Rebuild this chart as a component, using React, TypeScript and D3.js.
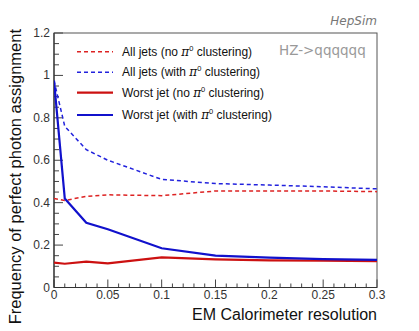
import React from "react";
import * as d3 from "d3";

const resolution = [0, 0.01, 0.03, 0.05, 0.1, 0.15, 0.2, 0.25, 0.3];
const allJetsNoPi0 = [0.42, 0.41, 0.43, 0.437, 0.433, 0.455, 0.455, 0.455, 0.452];
const allJetsWithPi0 = [0.975, 0.76, 0.65, 0.6, 0.51, 0.49, 0.483, 0.475, 0.465];
const worstJetNoPi0 = [0.117, 0.112, 0.122, 0.114, 0.142, 0.133, 0.128, 0.127, 0.124];
const worstJetWithPi0 = [0.975, 0.42, 0.305, 0.275, 0.185, 0.15, 0.141, 0.134, 0.13];

const yTicks = [0, 0.2, 0.4, 0.6, 0.8, 1, 1.2];
const xTicks = [0, 0.05, 0.1, 0.15, 0.2, 0.25, 0.3];

const legendItems = [
  { pre: "All jets (no ", post: " clustering)", color: "#dd2222", dash: "4,3", width: 1.5 },
  { pre: "All jets (with ", post: " clustering)", color: "#2222dd", dash: "4,3", width: 1.5 },
  { pre: "Worst jet (no ", post: " clustering)", color: "#cc1111", dash: "", width: 2.2 },
  { pre: "Worst jet (with ", post: " clustering)", color: "#1111cc", dash: "", width: 2.2 },
];
const seriesList = [allJetsNoPi0, allJetsWithPi0, worstJetNoPi0, worstJetWithPi0];

export default function App() {
  const W = 419, H = 331;
  const L = 54, R = 377, T = 33, B = 287.5;
  const x = d3.scaleLinear().domain([0, 0.3]).range([L, R]);
  const y = d3.scaleLinear().domain([0, 1.2]).range([B, T]);
  const line = d3.line<number>().x((_, i) => x(resolution[i])).y((d) => y(d));
  const xMinor = d3.range(0, 0.3001, 0.01);
  const yMinor = d3.range(0, 1.2001, 0.05);
  const font = "'Liberation Sans', Arial, sans-serif";
  return (
    <svg width={W} height={H} style={{ position: "absolute", left: 0, top: 0 }} fontFamily={font}>
      <rect width={W} height={H} fill="#fff" />
      <defs>
        <clipPath id="clip"><rect x={L} y={T} width={R - L} height={B - T} /></clipPath>
      </defs>
      {/* frame */}
      <rect x={L} y={T} width={R - L} height={B - T} fill="none" stroke="#555" strokeWidth={1} />
      {/* ticks */}
      {xMinor.map((t, i) => (
        <line key={"xm" + i} x1={x(t)} x2={x(t)} y1={B} y2={B - (i % 5 === 0 ? 8 : 4)} stroke="#444" strokeWidth={1} />
      ))}
      {yMinor.map((t, i) => (
        <line key={"ym" + i} x1={L} x2={L + (i % 4 === 0 ? 9 : 5)} y1={y(t)} y2={y(t)} stroke="#444" strokeWidth={1} />
      ))}
      <line x1={L} x2={R} y1={B} y2={B} stroke="#333" strokeWidth={1.2} />
      <line x1={L} x2={L} y1={T} y2={B} stroke="#333" strokeWidth={1.2} />
      {xTicks.map((t) => (
        <text key={"xt" + t} x={x(t)} y={299} fontSize={12} fill="#333" textAnchor="middle">{String(t)}</text>
      ))}
      {yTicks.map((t) => (
        <text key={"yt" + t} x={50} y={y(t) + 4} fontSize={12} fill="#333" textAnchor="end">{String(t)}</text>
      ))}
      <text x={R} y={320} fontSize={16} fill="#111" textAnchor="end">EM Calorimeter resolution</text>
      <text transform={`translate(21,${T - 4}) rotate(-90)`} fontSize={16.5} fill="#111" textAnchor="end">Frequency of perfect photon assignment</text>
      <text x={R} y={25} fontSize={12} fill="#777" fontStyle="italic" textAnchor="end" fontFamily="'DejaVu Sans', sans-serif">HepSim</text>
      <text x={279} y={55} fontSize={13.5} fill="#999" fontFamily="'DejaVu Sans', sans-serif">HZ-&gt;qqqqqq</text>
      {/* series */}
      <g clipPath="url(#clip)">
        {seriesList.map((s, i) => (
          <path key={"s" + i} d={line(s) || ""} fill="none" stroke={legendItems[i].color} strokeWidth={legendItems[i].width} strokeDasharray={legendItems[i].dash} />
        ))}
      </g>
      {/* legend */}
      {legendItems.map((it, i) => {
        const ly = [51.7, 72.3, 92.7, 115][i];
        return (
          <g key={"lg" + i}>
            <line x1={77} x2={113} y1={ly} y2={ly} stroke={it.color} strokeWidth={it.width} strokeDasharray={it.dash} />
            <text x={122} y={ly + 4} fontSize={12} fill="#111">
              {it.pre}
              <tspan fontFamily="'DejaVu Serif', serif" fontStyle="italic">π</tspan>
              <tspan fontSize={7.5} dy={-5}>0</tspan>
              <tspan dy={5}>{it.post}</tspan>
            </text>
          </g>
        );
      })}
    </svg>
  );
}
